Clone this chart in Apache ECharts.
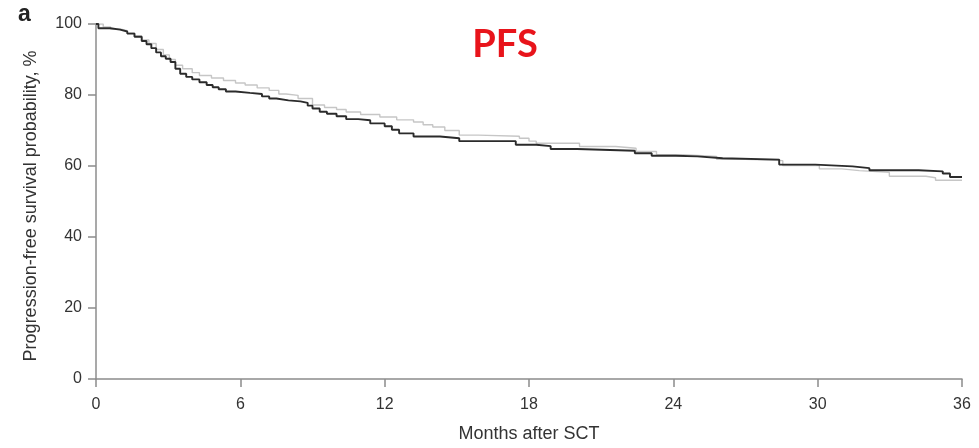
<!DOCTYPE html>
<html>
<head>
<meta charset="utf-8">
<script src="https://cdn.jsdelivr.net/npm/echarts@6/dist/echarts.min.js"></script>
<style>
  html, body { margin: 0; padding: 0; background: #fff; }
  #chart { width: 979px; height: 448px; }
</style>
</head>
<body>
<div id="chart"></div>
<script>
// Kaplan-Meier progression-free survival, two arms (months after SCT, % event-free)
const armDarkMonths = [0, 0.1, 0.6, 1.0, 1.3, 1.6, 1.9, 2.1, 2.3, 2.5, 2.7, 2.9, 3.1, 3.3, 3.5, 3.75, 4.0, 4.3, 4.6, 4.85, 5.1, 5.4, 5.8, 6.4, 6.9, 7.2, 7.5, 8.0, 8.5, 8.8, 9.0, 9.3, 9.6, 10.0, 10.4, 10.9, 11.4, 12.0, 12.3, 12.6, 13.2, 14.3, 15.1, 17.45, 18.3, 18.9, 20.0, 22.4, 23.1, 24.1, 25.0, 26.05, 28.4, 29.9, 31.45, 32.15, 34.2, 35.2, 35.5, 36];
const armDarkValues = [100, 98.8, 98.4, 97.9, 97.3, 96.4, 95.2, 94.3, 93.2, 92.0, 90.9, 90.2, 89.3, 87.4, 86.0, 85.1, 84.4, 83.6, 82.8, 82.2, 81.6, 81.0, 80.6, 80.3, 79.6, 79.0, 78.5, 78.2, 77.8, 77.0, 76.2, 75.3, 74.7, 74.0, 73.2, 72.9, 72.0, 71.2, 70.2, 69.2, 68.3, 67.8, 67.0, 66.0, 65.6, 64.8, 64.3, 63.6, 62.9, 62.7, 62.2, 61.8, 60.4, 59.9, 59.4, 58.8, 58.5, 57.9, 56.9, 56.9];

const armLightMonths = [0, 0.3, 0.6, 1.0, 1.3, 1.6, 1.9, 2.2, 2.5, 2.8, 3.05, 3.3, 3.6, 4.0, 4.3, 4.8, 5.3, 5.8, 6.2, 6.7, 7.2, 7.6, 7.9, 8.4, 9.0, 9.5, 10.0, 10.4, 11.0, 11.8, 12.5, 13.2, 13.6, 14.0, 14.5, 15.1, 15.9, 17.6, 18.0, 18.3, 20.1, 21.6, 22.45, 23.3, 24.4, 25.8, 27.0, 28.55, 30.07, 31.0, 31.73, 32.98, 34.5, 34.9, 36];
const armLightValues = [100, 99.2, 98.6, 98.1, 97.5, 96.6, 95.5, 94.5, 92.8, 91.3, 90.0, 88.4, 87.4, 86.3, 85.5, 84.8, 84.1, 83.4, 82.8, 82.0, 81.3, 80.3, 79.9, 79.0, 77.2, 76.5, 75.9, 75.2, 74.5, 73.8, 73.0, 72.4, 71.6, 71.0, 70.0, 68.7, 68.4, 67.8, 67.0, 66.4, 65.5, 65.0, 64.1, 63.2, 62.7, 61.9, 61.5, 60.1, 59.2, 58.7, 58.2, 57.1, 56.7, 56.0, 56.0];

const xTicks = [0, 6, 12, 18, 24, 30, 36];
const yTicks = [0, 20, 40, 60, 80, 100];

const pairs = (xs, ys) => xs.map((x, i) => [x, ys[i]]);

const axisGray = '#8c8c8c';
const labelFont = "'Liberation Sans', Arial, sans-serif";

const chart = echarts.init(document.getElementById('chart'), null, { renderer: 'canvas' });
chart.setOption({
  animation: false,
  backgroundColor: '#ffffff',
  grid: { left: 96, right: 17, top: 24, bottom: 64, containLabel: false },
  xAxis: {
    type: 'value',
    min: xTicks[0],
    max: xTicks[xTicks.length - 1],
    interval: 6,
    name: 'Months after SCT',
    nameLocation: 'middle',
    nameGap: 46,
    nameTextStyle: { fontFamily: labelFont, fontSize: 18, color: '#333' },
    axisLine: { show: true, onZero: false, lineStyle: { color: axisGray, width: 1.5 } },
    axisTick: { show: true, length: 8, inside: false, lineStyle: { color: axisGray, width: 1.5 } },
    axisLabel: { margin: 18, fontFamily: labelFont, fontSize: 16, color: '#333' },
    splitLine: { show: false }
  },
  yAxis: {
    type: 'value',
    min: yTicks[0],
    max: yTicks[yTicks.length - 1],
    interval: 20,
    axisLine: { show: true, onZero: false, lineStyle: { color: axisGray, width: 1.5 } },
    axisTick: { show: true, length: 8, inside: false, lineStyle: { color: axisGray, width: 1.5 } },
    axisLabel: { margin: 14, fontFamily: labelFont, fontSize: 16, color: '#333' },
    splitLine: { show: false }
  },
  graphic: [
    {
      type: 'text',
      x: 31, y: 206,
      rotation: Math.PI / 2,
      style: {
        text: 'Progression-free survival probability, %',
        font: "18px 'Liberation Sans', Arial, sans-serif",
        fill: '#333',
        textAlign: 'center',
        textVerticalAlign: 'middle'
      }
    },
    {
      type: 'text',
      x: 18, y: 15,
      style: {
        text: 'a',
        font: "bold 23px 'Liberation Sans', Arial, sans-serif",
        fill: '#222',
        textAlign: 'left',
        textVerticalAlign: 'middle'
      }
    },
    {
      type: 'text',
      x: 505, y: 45,
      style: {
        text: 'PFS',
        font: "bold 38px Lato, 'Open Sans', sans-serif",
        fill: '#e8141b',
        textAlign: 'center',
        textVerticalAlign: 'middle'
      }
    }
  ],
  series: [
    {
      type: 'line',
      step: 'end',
      showSymbol: false,
      data: pairs(armLightMonths, armLightValues),
      lineStyle: { color: '#c6c6c6', width: 1.4 },
      z: 2
    },
    {
      type: 'line',
      step: 'end',
      showSymbol: false,
      data: pairs(armDarkMonths, armDarkValues),
      lineStyle: { color: '#2b2b2b', width: 1.9 },
      z: 3
    }
  ]
});
</script>
</body>
</html>
